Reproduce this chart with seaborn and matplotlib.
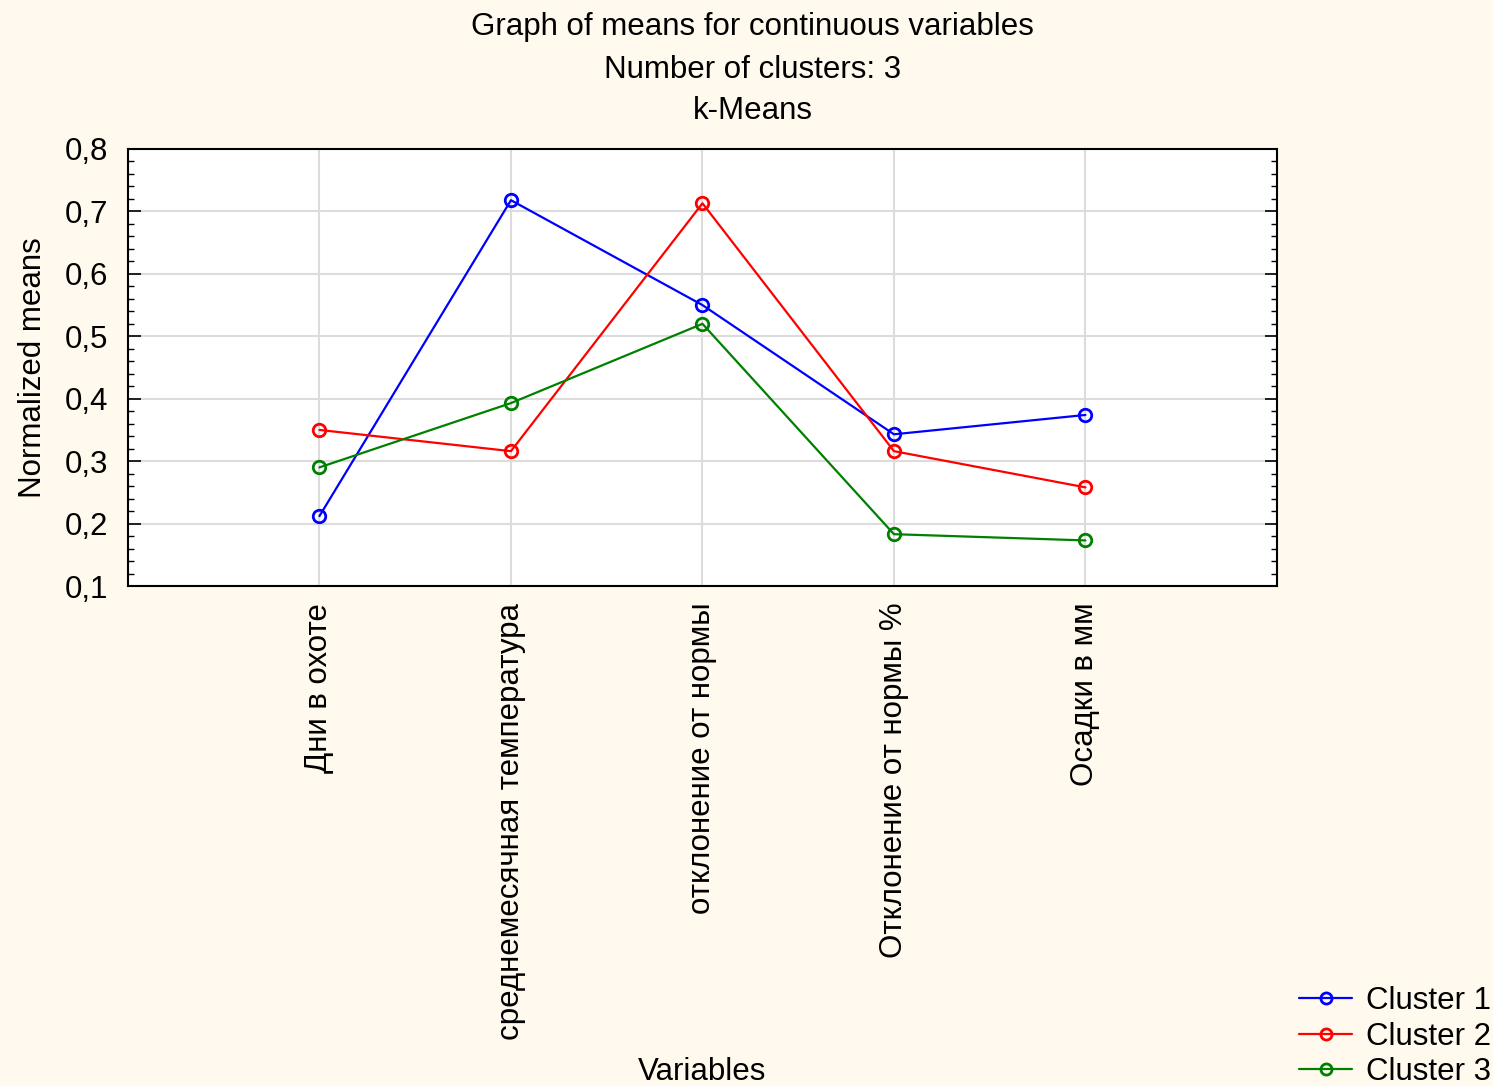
import pandas as pd
import numpy as np
import matplotlib.pyplot as plt
import seaborn as sns
from matplotlib.ticker import FixedLocator, FixedFormatter, AutoMinorLocator

# data
variables = ['Дни в охоте', 'среднемесячная температура', 'отклонение от нормы',
             'Отклонение от нормы %', 'Осадки в мм']
cluster_1 = [0.212, 0.718, 0.550, 0.343, 0.374]
cluster_2 = [0.350, 0.316, 0.713, 0.316, 0.258]
cluster_3 = [0.290, 0.393, 0.520, 0.183, 0.173]
clusters = ['Cluster 1', 'Cluster 2', 'Cluster 3']
colors = ['#0000ff', '#ff0000', '#008000']
y_ticks = [0.1, 0.2, 0.3, 0.4, 0.5, 0.6, 0.7, 0.8]
y_tick_labels = ['0,1', '0,2', '0,3', '0,4', '0,5', '0,6', '0,7', '0,8']

df = pd.DataFrame({
    'Variable': variables * 3,
    'Mean': cluster_1 + cluster_2 + cluster_3,
    'Cluster': [c for c in clusters for _ in variables],
})

sns.set_style('ticks')
plt.rcParams['font.family'] = ['Liberation Sans', 'DejaVu Sans']
plt.rcParams['text.color'] = 'black'
plt.rcParams['axes.labelcolor'] = 'black'
plt.rcParams['xtick.color'] = 'black'
plt.rcParams['ytick.color'] = 'black'
bg = '#fff9ee'
fs = 22.5

fig = plt.figure(figsize=(14.93, 10.86), dpi=100, facecolor=bg)
ax = fig.add_axes([0.0857, 0.4604, 0.7696, 0.4024])
ax.set_facecolor('white')

sns.lineplot(data=df, x='Variable', y='Mean', hue='Cluster', palette=colors,
             marker='o', markersize=9, markerfacecolor='none', markeredgewidth=2,
             linewidth=1.6, sort=False, legend=False, ax=ax)
# seaborn paints marker edges white; use the line colour instead
for line in ax.lines:
    line.set_markeredgecolor(line.get_color())

ax.set_xlim(-1, 5)
ax.set_ylim(0.1, 0.8)
ax.yaxis.set_major_locator(FixedLocator(y_ticks))
ax.yaxis.set_major_formatter(FixedFormatter(y_tick_labels))
ax.yaxis.set_minor_locator(AutoMinorLocator(5))
ax.grid(True, which='major', color='#dcdcdc', linewidth=1.5)
ax.set_axisbelow(True)
ax.tick_params(axis='y', which='both', direction='in', left=True, right=True,
               labelsize=fs, pad=14)
ax.tick_params(axis='y', which='major', length=9, width=1.2)
ax.tick_params(axis='y', which='minor', length=4, width=1)
ax.tick_params(axis='x', direction='in', length=0, labelsize=fs, pad=12)
plt.setp(ax.get_xticklabels(), rotation=90, va='top', ha='center')
for s in ax.spines.values():
    s.set_linewidth(1.5)
    s.set_color('black')

ax.set_xlabel('')
ax.set_ylabel('Normalized means', fontsize=fs, labelpad=12)
fig.text(0.47, 0.0125, 'Variables', fontsize=fs, ha='center', va='center')

fig.text(0.504, 0.9755, 'Graph of means for continuous variables', fontsize=fs,
         ha='center', va='center')
fig.text(0.504, 0.9355, 'Number of clusters: 3', fontsize=fs, ha='center', va='center')
fig.text(0.504, 0.8975, 'k-Means', fontsize=fs, ha='center', va='center')

handles = [plt.Line2D([], [], color=c, marker='o', markersize=8, markerfacecolor='none',
                      markeredgewidth=2, linewidth=1.6) for c in colors]
fig.legend(handles, clusters, loc='lower right', bbox_to_anchor=(1.0135, -0.021),
           frameon=False, fontsize=fs, handlelength=1.7, handletextpad=0.45,
           labelspacing=0.17, borderpad=0.2)

fig.savefig('out.png', dpi=100, facecolor=bg)
